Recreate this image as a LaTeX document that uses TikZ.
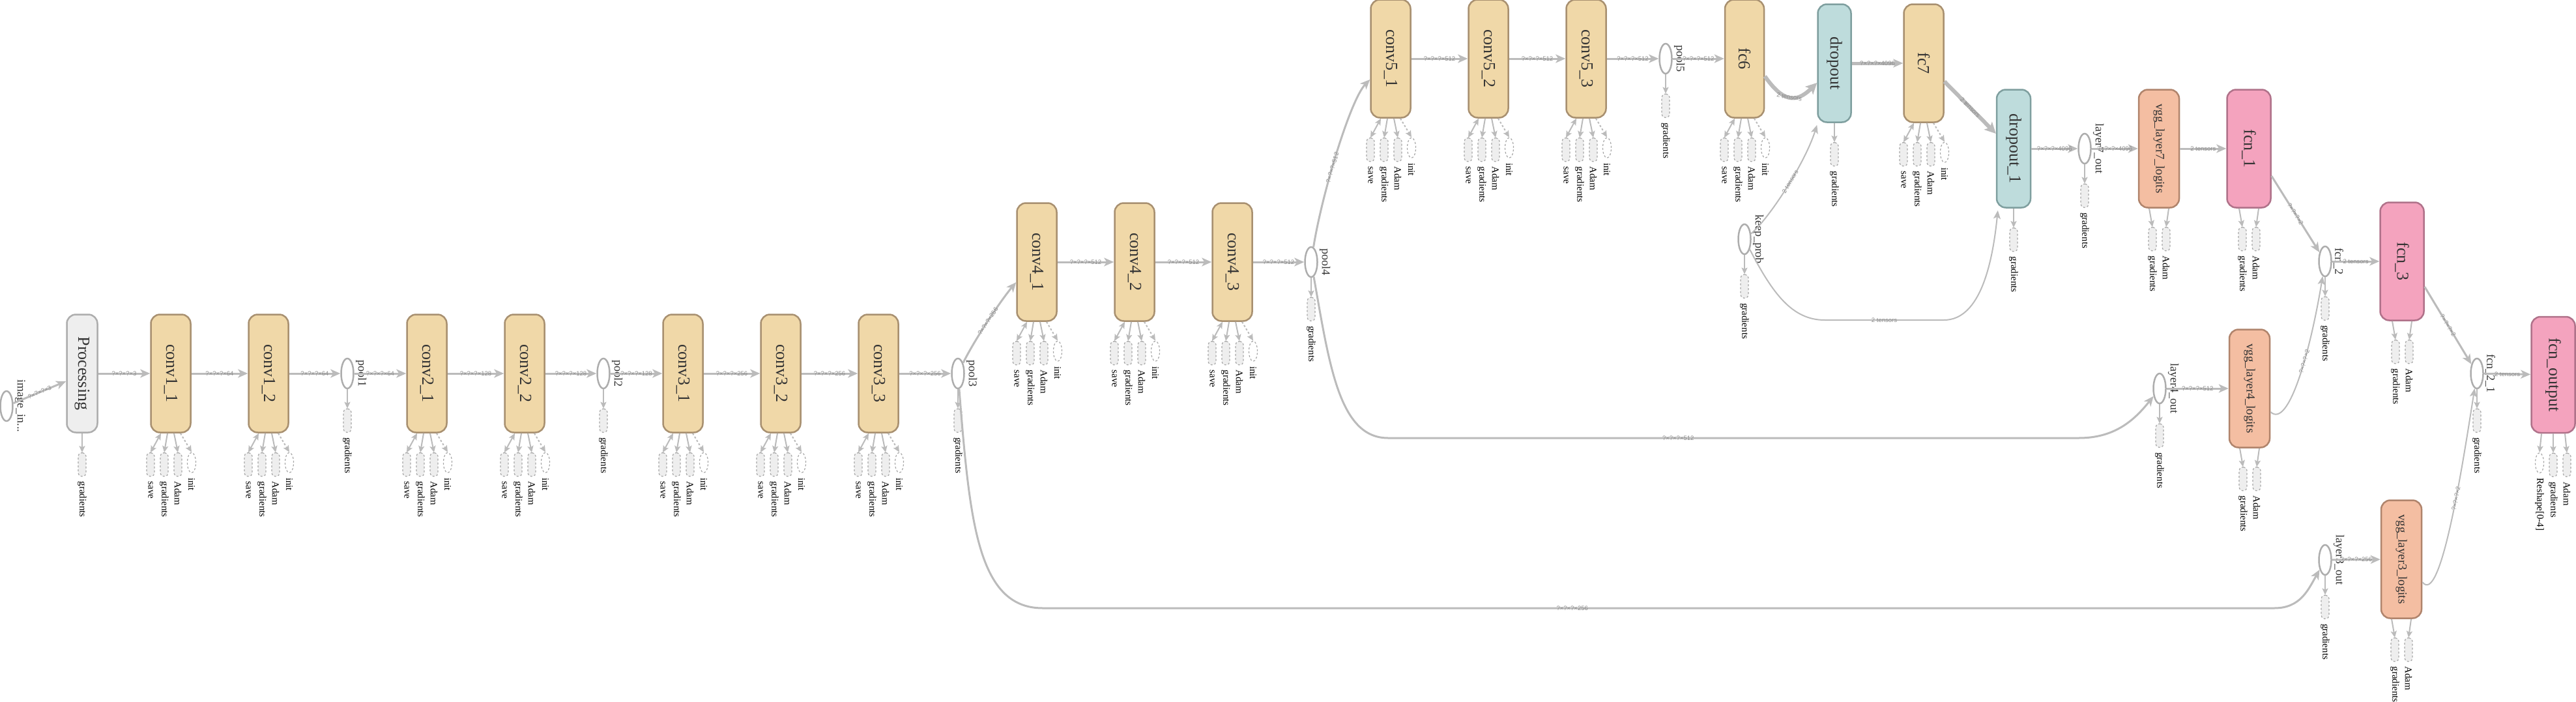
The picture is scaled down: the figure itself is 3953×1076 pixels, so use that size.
\documentclass[tikz,border=0pt]{standalone}
\usepackage{fontspec}
\setmainfont{Liberation Serif}
\newfontfamily\dimfont{Liberation Sans}
\usepackage{graphicx}
\usetikzlibrary{arrows.meta}
\usetikzlibrary{shapes.geometric}
\usetikzlibrary{positioning}
\usetikzlibrary{math}

\definecolor{convfill}{HTML}{F0D8A8}
\definecolor{convline}{HTML}{A89070}
\definecolor{procfill}{HTML}{EEEEEE}
\definecolor{procline}{HTML}{ADADAD}
\definecolor{auxline}{HTML}{A6A6A6}
\definecolor{dropfill}{HTML}{BEDCDC}
\definecolor{dropline}{HTML}{7F9F9F}
\definecolor{vggfill}{HTML}{F4BEA2}
\definecolor{vggline}{HTML}{B0846C}
\definecolor{fcnfill}{HTML}{F4A3BE}
\definecolor{fcnline}{HTML}{B0728A}
\definecolor{wire}{HTML}{BBBBBB}
\definecolor{dimtext}{HTML}{8C8C8C}
\definecolor{optext}{HTML}{333333}

\begin{document}
\begin{tikzpicture}[x=1pt,y=-1pt,
    opbox/.style={rectangle,rounded corners=14pt,line width=2.5pt,minimum width=61pt,minimum height=181pt,inner sep=0pt,text=optext,font=\fontsize{26}{26}\selectfont},
    convbox/.style={opbox,draw=convline,fill=convfill},
    procbox/.style={opbox,minimum width=47pt,draw=procline,fill=procfill},
    dropbox/.style={opbox,minimum width=51pt,draw=dropline,fill=dropfill},
    vggbox/.style={opbox,minimum width=62pt,draw=vggline,fill=vggfill,font=\fontsize{19}{19}\selectfont},
    fcnbox/.style={opbox,minimum width=67pt,draw=fcnline,fill=fcnfill},
    tensorop/.style={ellipse,draw=procline,line width=2.5pt,fill=white,minimum width=19pt,minimum height=46pt,inner sep=0pt},
    aux/.style={rectangle,rounded corners=5pt,draw=auxline,dashed,fill=procfill,line width=1.2pt,minimum width=12pt,minimum height=36pt,inner sep=0pt},
    auxinit/.style={ellipse,draw=auxline,dashed,line width=1.2pt,minimum width=13pt,minimum height=31pt,inner sep=0pt},
    auxlabel/.style={rotate=-90,anchor=west,inner sep=1pt,font=\fontsize{15}{15}\selectfont},
    oplabel/.style={rotate=-90,anchor=south,inner sep=2pt,text=optext,font=\fontsize{18}{18}\selectfont},
    flow/.style={draw=wire,line width=3pt,-{Stealth[length=15pt,width=13pt,inset=4pt]}},
    thickflow/.style={draw=wire,line width=6pt,-{Stealth[length=17pt,width=17pt,inset=4pt]}},
    thinflow/.style={draw=wire,line width=2pt,-{Stealth[length=13pt,width=11pt,inset=3pt]}},
    ctl/.style={draw=wire,line width=2pt,-{Stealth[length=10pt,width=9pt,inset=2pt]}},
    ctltwo/.style={draw=wire,line width=2pt,{Stealth[length=10pt,width=9pt,inset=2pt]}-{Stealth[length=10pt,width=9pt,inset=2pt]}},
    dims/.style={font=\dimfont\fontsize{9.5}{9.5}\selectfont,text=dimtext,inner sep=1pt}]
    \tikzmath{  \ya = 573 ;
                \yb = 402 ;
                \yc = 90 ;
                \yd = 228 ;
                \dx = 150 ;
                \cA = 262 ;
                \cB = \cA + \dx ;
                \cC = 655 ;
                \cD = \cC + \dx ;
                \cE = 1048 ;
                \cF = \cE + \dx ;
                \cG = \cF + \dx ;
                \cH = 1591 ;
                \cI = \cH + \dx ;
                \cJ = \cI + \dx ;
                \cK = 2134 ;
                \cL = \cK + \dx ;
                \cM = \cL + \dx ;
                }
    \useasboundingbox (0,0) rectangle (3953,1076);

    % first row
    \node[tensorop] (imagein) at (10,623) {};
    \node[procbox] (proc) at (126,\ya) {\rotatebox{-90}{Processing}};
    \node[convbox] (conv11) at (\cA,\ya) {\rotatebox{-90}{conv1\_1}};
    \node[convbox] (conv12) at (\cB,\ya) {\rotatebox{-90}{conv1\_2}};
    \node[tensorop] (pool1) at (533,\ya) {};
    \node[convbox] (conv21) at (\cC,\ya) {\rotatebox{-90}{conv2\_1}};
    \node[convbox] (conv22) at (\cD,\ya) {\rotatebox{-90}{conv2\_2}};
    \node[tensorop] (pool2) at (926,\ya) {};
    \node[convbox] (conv31) at (\cE,\ya) {\rotatebox{-90}{conv3\_1}};
    \node[convbox] (conv32) at (\cF,\ya) {\rotatebox{-90}{conv3\_2}};
    \node[convbox] (conv33) at (\cG,\ya) {\rotatebox{-90}{conv3\_3}};
    \node[tensorop] (pool3) at (1470,\ya) {};

    % second row
    \node[convbox] (conv41) at (\cH,\yb) {\rotatebox{-90}{conv4\_1}};
    \node[convbox] (conv42) at (\cI,\yb) {\rotatebox{-90}{conv4\_2}};
    \node[convbox] (conv43) at (\cJ,\yb) {\rotatebox{-90}{conv4\_3}};
    \node[tensorop] (pool4) at (2012,\yb) {};

    % top row
    \node[convbox] (conv51) at (\cK,\yc) {\rotatebox{-90}{conv5\_1}};
    \node[convbox] (conv52) at (\cL,\yc) {\rotatebox{-90}{conv5\_2}};
    \node[convbox] (conv53) at (\cM,\yc) {\rotatebox{-90}{conv5\_3}};
    \node[tensorop] (pool5) at (2556,\yc) {};
    \node[convbox,minimum width=60pt] (fc6) at (2677,\yc) {\rotatebox{-90}{fc6}};
    \node[dropbox] (drop) at (2815,97) {\rotatebox{-90}{dropout}};
    \node[convbox] (fc7) at (2952,97) {\rotatebox{-90}{fc7}};
    \node[tensorop] (keepprob) at (2677,367) {};

    % decoder
    \node[dropbox,minimum width=52pt] (drop1) at (3090,\yd) {\rotatebox{-90}{dropout\_1}};
    \node[tensorop] (layer7) at (3199,\yd) {};
    \node[vggbox] (vgg7) at (3313,\yd) {\rotatebox{-90}{vgg\_layer7\_logits}};
    \node[fcnbox] (fcn1) at (3451,\yd) {\rotatebox{-90}{fcn\_1}};
    \node[tensorop] (fcn2) at (3568,401) {};
    \node[fcnbox] (fcn3) at (3686,401) {\rotatebox{-90}{fcn\_3}};
    \node[tensorop] (layer4) at (3314,596) {};
    \node[vggbox] (vgg4) at (3452,596) {\rotatebox{-90}{vgg\_layer4\_logits}};
    \node[tensorop] (fcn21) at (3801,573) {};
    \node[fcnbox,minimum height=178pt] (fcnout) at (3918,575) {\rotatebox{-90}{fcn\_output}};
    \node[tensorop] (layer3) at (3568,859) {};
    \node[vggbox] (vgg3) at (3685,858) {\rotatebox{-90}{vgg\_layer3\_logits}};

    % names of the ellipses
    \node[oplabel] at (imagein.east) {image\_in...};
    \node[oplabel] at (pool1.east) {pool1};
    \node[oplabel] at (pool2.east) {pool2};
    \node[oplabel] at (pool3.east) {pool3};
    \node[oplabel] at (pool4.east) {pool4};
    \node[oplabel] at (pool5.east) {pool5};
    \node[oplabel] at (keepprob.east) {keep\_prob};
    \node[oplabel] at (layer7.east) {layer7\_out};
    \node[oplabel] at (layer4.east) {layer4\_out};
    \node[oplabel] at (layer3.east) {layer3\_out};
    \node[oplabel] at (fcn2.east) {fcn\_2};
    \node[oplabel] at (fcn21.east) {fcn\_2\_1};

    % save, gradients, Adam, init
    \foreach \nm in {conv11,conv12,conv21,conv22,conv31,conv32,conv33,conv41,conv42,conv43,conv51,conv52,conv53,fc6,fc7}{
        \node[aux] (\nm-s) at ([xshift=-31pt,yshift=-48pt]\nm.south) {};
        \node[aux] (\nm-g) at ([xshift=-10pt,yshift=-48pt]\nm.south) {};
        \node[aux] (\nm-a) at ([xshift=11pt,yshift=-48pt]\nm.south) {};
        \node[auxinit] (\nm-i) at ([xshift=32pt,yshift=-45pt]\nm.south) {};
        \draw[ctltwo] ([xshift=-15pt]\nm.south) -- (\nm-s.north);
        \draw[ctl] ([xshift=-5pt]\nm.south) -- (\nm-g.north);
        \draw[ctl] ([xshift=5pt]\nm.south) -- (\nm-a.north);
        \draw[ctl,dashed] ([xshift=15pt]\nm.south) -- (\nm-i.north);
        \node[auxlabel] at ([yshift=-6pt]\nm-s.south) {save};
        \node[auxlabel] at ([yshift=-6pt]\nm-g.south) {gradients};
        \node[auxlabel] at ([yshift=-6pt]\nm-a.south) {Adam};
        \node[auxlabel] at ([yshift=-6pt]\nm-i.south) {init};
    }
    % gradients only
    \foreach \nm in {proc,pool1,pool2,pool3,pool4,pool5,drop,keepprob,drop1,layer7,fcn2,layer4,fcn21,layer3}{
        \node[aux] (\nm-g) at ([yshift=-48pt]\nm.south) {};
        \draw[ctl] (\nm.south) -- (\nm-g.north);
        \node[auxlabel] at ([yshift=-6pt]\nm-g.south) {gradients};
    }
    % gradients and Adam
    \foreach \nm in {vgg7,fcn1,fcn3,vgg4,vgg3}{
        \node[aux] (\nm-g) at ([xshift=-10pt,yshift=-47pt]\nm.south) {};
        \node[aux] (\nm-a) at ([xshift=11pt,yshift=-47pt]\nm.south) {};
        \draw[ctl] ([xshift=-15pt]\nm.south) -- (\nm-g.north);
        \draw[ctl] ([xshift=15pt]\nm.south) -- (\nm-a.north);
        \node[auxlabel] at ([yshift=-6pt]\nm-g.south) {gradients};
        \node[auxlabel] at ([yshift=-6pt]\nm-a.south) {Adam};
    }
    \node[auxinit] (fcnout-r) at ([xshift=-21pt,yshift=-45pt]fcnout.south) {};
    \node[aux] (fcnout-g) at ([yshift=-48pt]fcnout.south) {};
    \node[aux] (fcnout-a) at ([xshift=21pt,yshift=-48pt]fcnout.south) {};
    \draw[ctl] ([xshift=-18pt]fcnout.south) -- (fcnout-r.north);
    \draw[ctl] (fcnout.south) -- (fcnout-g.north);
    \draw[ctl] ([xshift=18pt]fcnout.south) -- (fcnout-a.north);
    \node[auxlabel] at ([yshift=-6pt]fcnout-r.south) {Reshape[0-4]};
    \node[auxlabel] at ([yshift=-6pt]fcnout-g.south) {gradients};
    \node[auxlabel] at ([yshift=-6pt]fcnout-a.south) {Adam};

    % data flow
    \draw[flow] (imagein) -- node[dims,sloped] {?×?×?×3} ([yshift=-12pt]proc.west);
    \draw[flow] (proc) -- node[dims] {?×?×?×3} (conv11);
    \draw[flow] (conv11) -- node[dims] {?×?×?×64} (conv12);
    \draw[flow] (conv12) -- node[dims] {?×?×?×64} (pool1);
    \draw[flow] (pool1) -- node[dims] {?×?×?×64} (conv21);
    \draw[flow] (conv21) -- node[dims] {?×?×?×128} (conv22);
    \draw[flow] (conv22) -- node[dims] {?×?×?×128} (pool2);
    \draw[flow] (pool2) -- node[dims] {?×?×?×128} (conv31);
    \draw[flow] (conv31) -- node[dims] {?×?×?×256} (conv32);
    \draw[flow] (conv32) -- node[dims] {?×?×?×256} (conv33);
    \draw[flow] (conv33) -- node[dims] {?×?×?×256} (pool3);
    \draw[flow] (pool3) .. controls (1495,522) and (1535,462) .. node[dims,sloped] {?×?×?×256} ([yshift=-31pt]conv41.west);
    \draw[flow] (pool3) .. controls (1488,800) and (1500,933) .. (1600,933) -- node[dims,pos=0.43] {?×?×?×256} (3490,933) .. controls (3530,933) and (3542,905) .. (layer3);
    \draw[flow] (conv41) -- node[dims] {?×?×?×512} (conv42);
    \draw[flow] (conv42) -- node[dims] {?×?×?×512} (conv43);
    \draw[flow] (conv43) -- node[dims] {?×?×?×512} (pool4);
    \draw[flow] (pool4) .. controls (2028,300) and (2072,153) .. node[dims,sloped,pos=0.42] {?×?×?×512} ([yshift=-32pt]conv51.west);
    \draw[flow] (pool4) .. controls (2040,560) and (2055,672) .. (2130,672) -- node[dims,pos=0.42] {?×?×?×512} (3190,672) .. controls (3245,672) and (3275,645) .. (layer4);
    \draw[flow] (conv51) -- node[dims] {?×?×?×512} (conv52);
    \draw[flow] (conv52) -- node[dims] {?×?×?×512} (conv53);
    \draw[flow] (conv53) -- node[dims] {?×?×?×512} (pool5);
    \draw[flow] (pool5) -- node[dims] {?×?×?×512} (fc6);
    \draw[thickflow] ([yshift=-27pt]fc6.east) .. controls (2735,155) and (2755,160) .. node[dims,sloped] {2 tensors} ([yshift=-30pt]drop.west);
    \draw[thinflow] (keepprob) .. controls (2715,335) and (2770,250) .. node[dims,sloped,pos=0.55] {2 tensors} ([yshift=-3pt]drop.south west);
    \draw[flow,line width=5pt] (drop) -- node[dims] {?×?×?×4096} (fc7);
    \draw[thickflow] ([yshift=-28pt]fc7.east) -- node[dims,sloped] {2 tensors} ([yshift=23pt]drop1.west);
    \draw[thinflow] (keepprob) .. controls (2720,450) and (2750,491) .. (2800,491) -- node[dims] {2 tensors} (2983,491) .. controls (3040,491) and (3058,400) .. ([xshift=3pt,yshift=-3pt]drop1.south west);
    \draw[flow] (drop1) -- node[dims] {?×?×?×4096} (layer7);
    \draw[flow] (layer7) -- node[dims] {?×?×?×4096} (vgg7);
    \draw[flow] (vgg7) -- node[dims] {2 tensors} (fcn1);
    \draw[flow] ([yshift=-42pt]fcn1.east) -- node[dims,sloped] {?×?×?×2} (fcn2);
    \draw[thinflow] ([yshift=-36pt]vgg4.east) .. controls (3512,658) and (3545,540) .. node[dims,sloped,pos=0.6] {?×?×?×2} (fcn2);
    \draw[flow] (layer4) -- node[dims] {?×?×?×512} (vgg4);
    \draw[flow] (fcn2) -- node[dims] {2 tensors} (fcn3);
    \draw[flow] ([yshift=-39pt]fcn3.east) -- node[dims,sloped] {?×?×?×2} (fcn21);
    \draw[thinflow] ([yshift=-35pt]vgg3.east) .. controls (3745,930) and (3778,720) .. node[dims,sloped,pos=0.6] {?×?×?×2} (fcn21);
    \draw[flow] (layer3) -- node[dims] {?×?×?×256} (vgg3);
    \draw[flow] (fcn21) -- node[dims] {2 tensors} (fcnout);
\end{tikzpicture}
\end{document}
